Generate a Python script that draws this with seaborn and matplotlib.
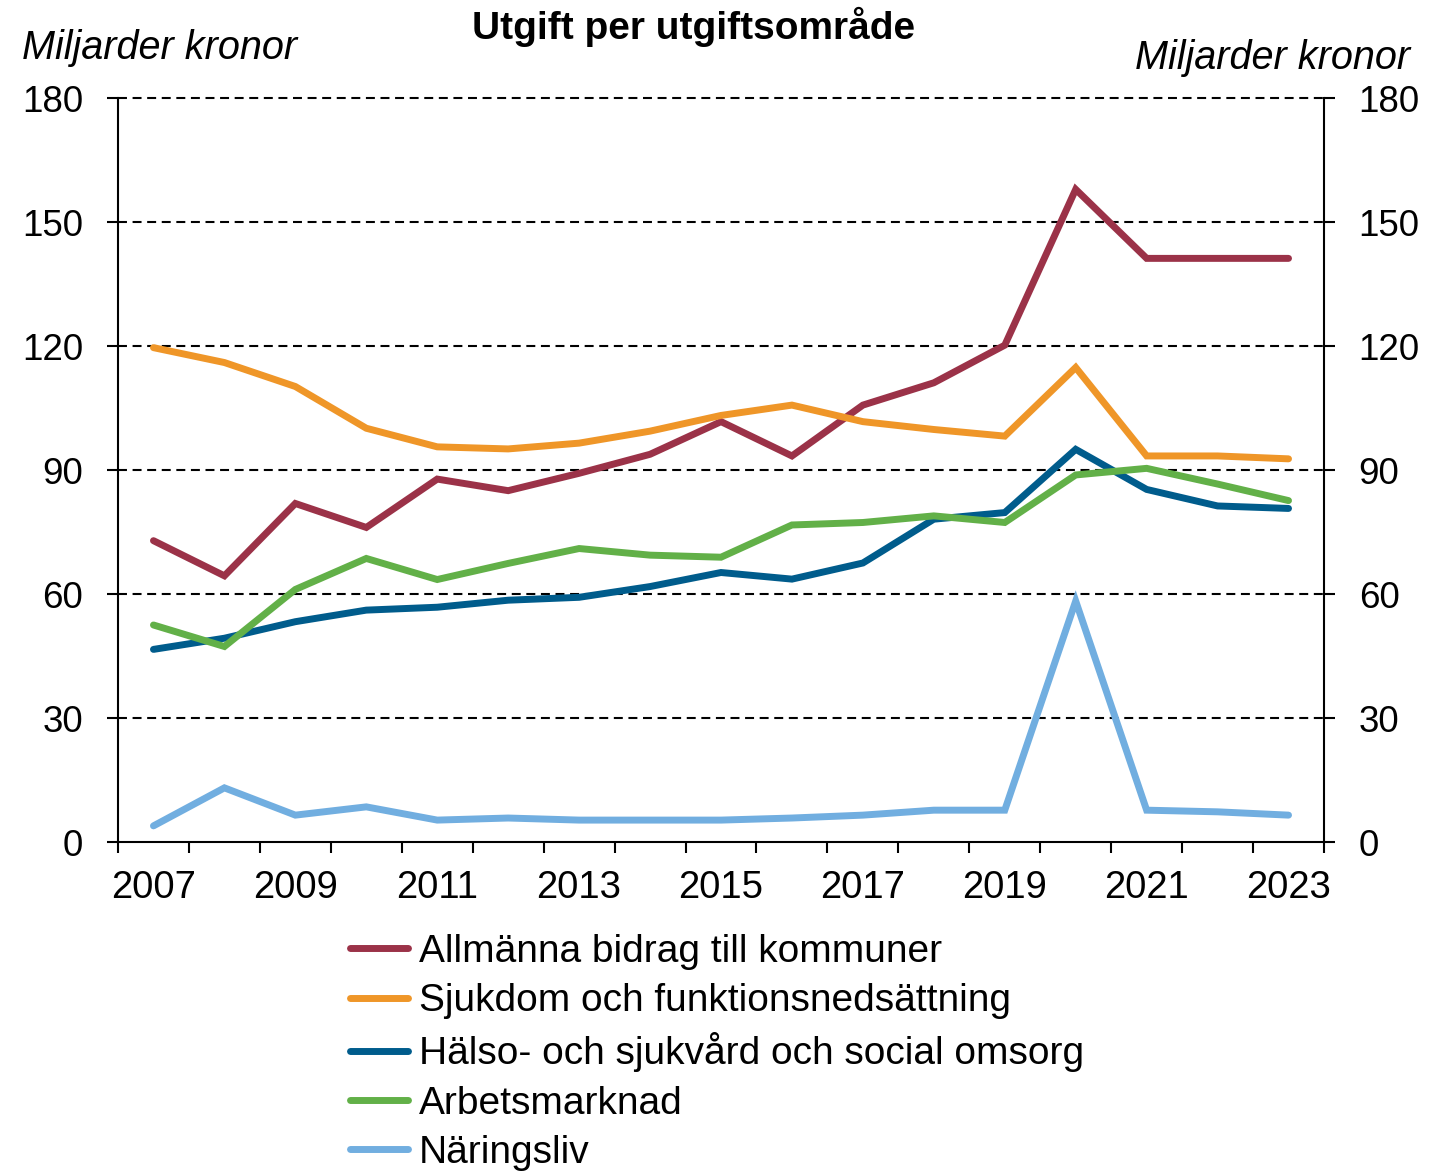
import matplotlib
matplotlib.use("Agg")
import matplotlib.pyplot as plt
import seaborn as sns
import pandas as pd
import numpy as np

# ---- data ----
years = list(range(2007, 2024))
allmanna = [72.9, 64.4, 81.9, 76.1, 87.8, 85.0, 89.2, 93.8, 101.7, 93.4, 105.7, 111.1, 120.2, 157.9, 141.2, 141.2, 141.2]
sjukdom = [119.6, 116.0, 110.2, 100.1, 95.6, 95.1, 96.5, 99.4, 103.2, 105.7, 101.7, 99.8, 98.2, 114.8, 93.4, 93.4, 92.7]
halso = [46.6, 49.3, 53.3, 56.1, 56.8, 58.5, 59.2, 61.8, 65.2, 63.6, 67.5, 78.1, 79.7, 95.0, 85.3, 81.3, 80.7]
arbets = [52.5, 47.3, 61.1, 68.6, 63.5, 67.4, 71.0, 69.4, 68.9, 76.7, 77.3, 78.9, 77.3, 88.8, 90.4, 86.6, 82.6]
naring = [3.9, 13.1, 6.5, 8.5, 5.3, 5.8, 5.3, 5.3, 5.3, 5.8, 6.5, 7.7, 7.7, 58.3, 7.7, 7.3, 6.5]

series_names = [
    "Allmänna bidrag till kommuner",
    "Sjukdom och funktionsnedsättning",
    "Hälso- och sjukvård och social omsorg",
    "Arbetsmarknad",
    "Näringsliv",
]
series_values = [allmanna, sjukdom, halso, arbets, naring]
colors = ["#9B3248", "#EF9628", "#005C8C", "#62B048", "#71AEE0"]

yticks = [0, 30, 60, 90, 120, 150, 180]
xlabel_years = list(range(2007, 2024, 2))

title = "Utgift per utgiftsområde"
unit = "Miljarder kronor"

df = pd.DataFrame({
    "year": np.tile(years, len(series_names)),
    "value": np.concatenate(series_values),
    "series": np.repeat(series_names, len(years)),
})

# ---- style ----
sns.set_style("white")
plt.rcParams["font.family"] = ["Liberation Sans", "DejaVu Sans"]
plt.rcParams["text.color"] = "black"
plt.rcParams["axes.labelcolor"] = "black"
plt.rcParams["xtick.color"] = "black"
plt.rcParams["ytick.color"] = "black"

fig = plt.figure(figsize=(14.3, 11.72), dpi=100)
ax = fig.add_axes([118 / 1430, 1 - 842 / 1172, (1324 - 118) / 1430, (842 - 98) / 1172])

sns.lineplot(data=df, x="year", y="value", hue="series", hue_order=series_names,
             palette=colors, linewidth=5, ax=ax, legend=False, sort=False)
for ln in ax.get_lines():
    ln.set_solid_capstyle("round")
    ln.set_solid_joinstyle("miter")

ax.set_xlim(years[0] - 0.5, years[-1] + 0.5)
ax.set_ylim(0, 180)
ax.set_xlabel("")
ax.set_ylabel("")

# y axis ticks both sides
ax.set_yticks(yticks)
ax.set_yticklabels([str(v) for v in yticks])
ax.tick_params(axis="y", which="major", left=True, right=True, labelleft=True, labelright=True,
               direction="out", length=8, width=1.5, pad=17, labelsize=26.5,
               colors="black", labelcolor="black")

# x axis: boundary ticks + labels at centers
ax.set_xticks([y - 0.5 for y in years] + [years[-1] + 0.5])
ax.set_xticklabels([])
ax.set_xticks(xlabel_years, minor=True)
ax.set_xticklabels([str(y) for y in xlabel_years], minor=True)
ax.tick_params(axis="x", which="major", bottom=True, direction="out", length=8, width=1.5,
               colors="black")
ax.tick_params(axis="x", which="minor", bottom=True, length=0, pad=20, labelsize=27.5,
               labelcolor="black")

# spines
for s in ["left", "right", "bottom"]:
    ax.spines[s].set_visible(True)
    ax.spines[s].set_color("black")
    ax.spines[s].set_linewidth(1.5)
ax.spines["top"].set_visible(False)

# dashed grid
ax.set_axisbelow(False)
ax.yaxis.grid(True, color="black", linestyle=(0, (4.3, 2.7)), linewidth=1.5)
for gl in ax.get_ygridlines():
    gl.set_clip_on(False)
    gl.set_zorder(1)
ax.get_ygridlines()[0].set_visible(False)
for ln in ax.get_lines():
    if ln not in ax.get_ygridlines():
        ln.set_zorder(3)

# texts
fig.text(694 / 1430, 1 - 27 / 1172, title, ha="center", va="center", fontsize=28,
         fontweight="bold", color="black")
fig.text(22 / 1430, 1 - 48 / 1172, unit, ha="left", va="center", fontsize=28.5,
         fontstyle="italic", color="black")
fig.text(1410 / 1430, 1 - 58 / 1172, unit, ha="right", va="center", fontsize=28.5,
         fontstyle="italic", color="black")

# legend
data_lines = [ln for ln in ax.get_lines() if ln not in ax.get_ygridlines()][:len(series_names)]
leg = fig.legend(data_lines, series_names, loc="upper left",
                 bbox_to_anchor=(350 / 1430, 1 - 934 / 1172), frameon=False,
                 fontsize=28, handlelength=1.5, handletextpad=0.27, labelspacing=0.34,
                 borderpad=0, borderaxespad=0, labelcolor="black")
for h in leg.get_lines():
    h.set_linewidth(5)
    h.set_solid_capstyle("round")

fig.savefig("out.png", dpi=100)
